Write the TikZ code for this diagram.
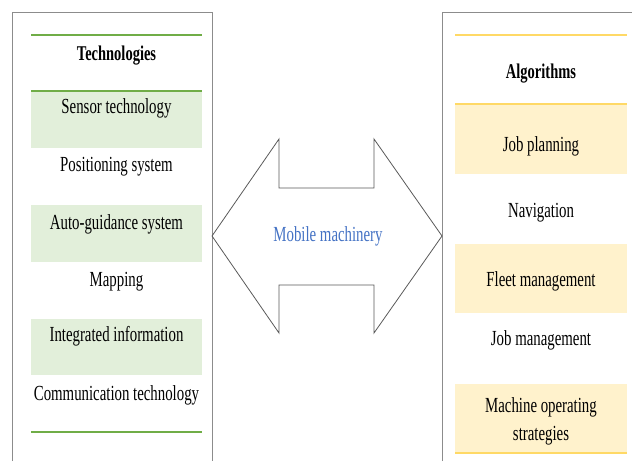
\documentclass[tikz,border=0pt]{standalone}
\usepackage{fontspec}
\setmainfont[FakeStretch=0.69]{Liberation Serif}
\usetikzlibrary{positioning}
\definecolor{techline}{HTML}{70AD47}
\definecolor{techfill}{HTML}{E2EFDA}
\definecolor{algline}{HTML}{FFD966}
\definecolor{algfill}{HTML}{FFF2CC}
\definecolor{framegray}{HTML}{8C8C8C}
\definecolor{arrowgray}{HTML}{595959}
\definecolor{mmblue}{HTML}{4472C4}

\begin{document}
\begin{tikzpicture}[x=1pt, y=-1pt,
  item/.style={font=\fontsize{21.5}{28}\selectfont, inner sep=0pt, anchor=base, align=center},
  head/.style={item, font=\fontsize{21}{28}\selectfont\bfseries},
  frame/.style={draw=framegray, line width=0.9pt},
  rule/.style={line width=1.3pt}]
\useasboundingbox (0,0) rectangle (632,461);

% panel frames
\draw[frame] (12,461) |- (212,12) -- (212,461);
\draw[frame] (442,461) |- (632,12);

% shaded rows
\fill[techfill] (31,91) rectangle (202,148);
\fill[techfill] (31,205) rectangle (202,262);
\fill[techfill] (31,319) rectangle (202,375);
\fill[algfill] (455,104) rectangle (627,174);
\fill[algfill] (455,244) rectangle (627,313);
\fill[algfill] (455,384) rectangle (627,453);

% table rules
\draw[rule, techline] (31,35) -- (202,35) (31,91) -- (202,91) (31,432) -- (202,432);
\draw[rule, algline] (455,35) -- (627,35) (455,104) -- (627,104) (455,453) -- (627,453);

\node[head] (tech) at (116.5,60) {Technologies};
\node[item] (sensor) at (116.5,113.5) {Sensor technology};
\node[item] (posit) at (116.5,171.5) {Positioning system};
\node[item] (autog) at (116.5,229) {Auto-guidance system};
\node[item] (mapping) at (116.5,286.5) {Mapping};
\node[item] (integr) at (116.5,341) {Integrated information};
\node[item] (commun) at (116.5,400.5) {Communication technology};

\node[head] (algo) at (541,78) {Algorithms};
\node[item] (jobplan) at (541,151.5) {Job planning};
\node[item] (navig) at (541,217) {Navigation};
\node[item] (fleet) at (541,286.5) {Fleet management};
\node[item] (jobman) at (541,345.5) {Job management};
\node[item, anchor=center] (machop) at (541,421) {Machine operating\\strategies};

% double arrow
\draw[arrowgray, line width=0.8pt, line join=miter]
  (212,236) -- (279,139) -- (279,188) -- (374,188) -- (374,139) -- (442,236)
  -- (374,333) -- (374,285) -- (279,285) -- (279,333) -- cycle;
\node[item, text=mmblue] (mobile) at (328,241.5) {Mobile machinery};
\end{tikzpicture}
\end{document}
